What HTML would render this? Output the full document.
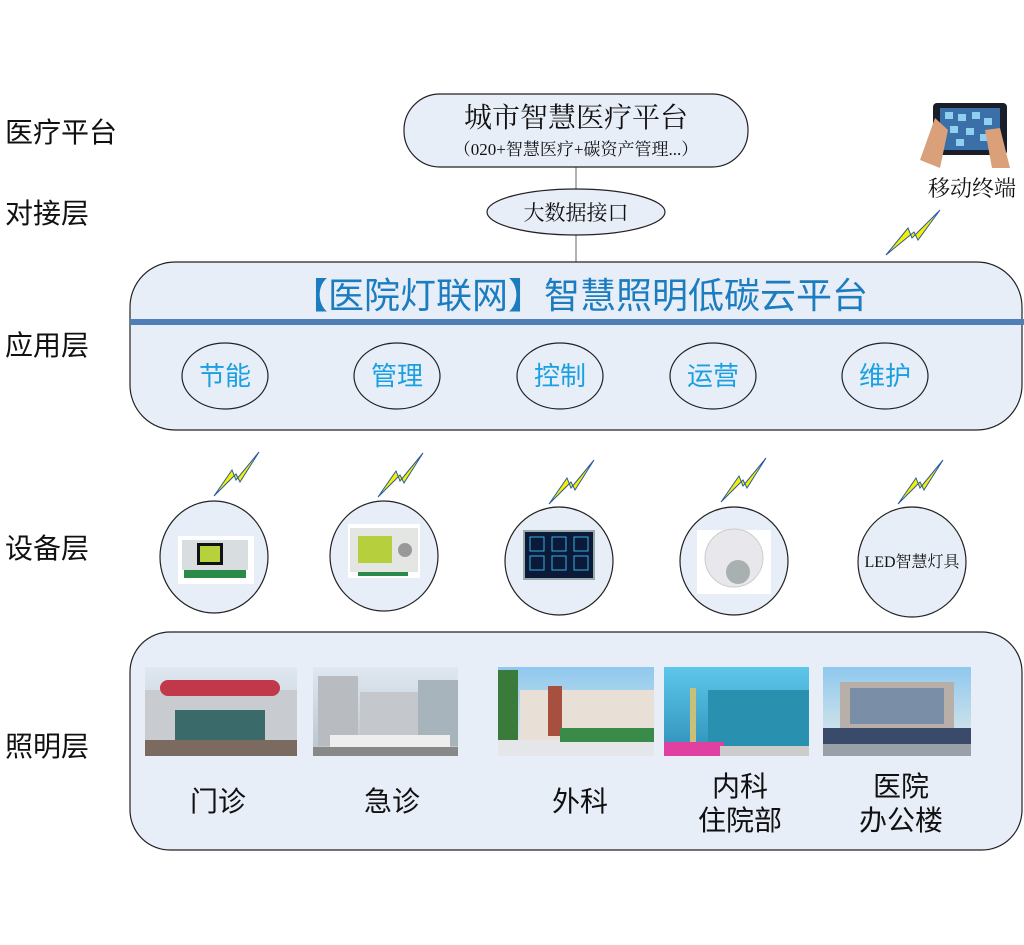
<!DOCTYPE html>
<html><head><meta charset="utf-8"><style>
html,body{margin:0;padding:0;background:#fff;}
svg{display:block;font-family:"Liberation Serif","Noto Serif CJK SC","Noto Sans CJK SC",serif;}
</style></head><body>
<svg width="1024" height="945" viewBox="0 0 1024 945" xmlns="http://www.w3.org/2000/svg">
<defs>
<linearGradient id="sky" x1="0" y1="0" x2="0" y2="1"><stop offset="0" stop-color="#dfe8f0"/><stop offset="1" stop-color="#b9c4cc"/></linearGradient>
<linearGradient id="sky2" x1="0" y1="0" x2="0" y2="1"><stop offset="0" stop-color="#5cc7ea"/><stop offset="1" stop-color="#2f8fb8"/></linearGradient>
<linearGradient id="sky3" x1="0" y1="0" x2="0" y2="1"><stop offset="0" stop-color="#8fc8ee"/><stop offset="1" stop-color="#e6ece8"/></linearGradient>
</defs>
<g font-family="'Liberation Sans','Noto Sans CJK SC',sans-serif" font-size="28" fill="#111">
<text x="5" y="142">医疗平台</text>
<text x="5" y="223">对接层</text>
<text x="5" y="355">应用层</text>
<text x="5" y="558">设备层</text>
<text x="5" y="756">照明层</text>
</g>
<line x1="576" y1="167" x2="576" y2="262" stroke="#666" stroke-width="1"/>
<rect x="404" y="94" width="344" height="73" rx="36" fill="#e8eef8" stroke="#222" stroke-width="1.2"/>
<text x="576" y="127" font-size="28" text-anchor="middle" fill="#111">城市智慧医疗平台</text>
<text x="576" y="155" font-size="17" text-anchor="middle" fill="#111">（020+智慧医疗+碳资产管理...）</text>
<ellipse cx="576" cy="212" rx="89" ry="23" fill="#e8eef8" stroke="#222" stroke-width="1.2"/>
<text x="576" y="220" font-size="21" text-anchor="middle" fill="#111">大数据接口</text>
<rect x="933" y="103" width="74" height="52" rx="4" fill="#1a1d2a"/>
<rect x="940" y="108" width="60" height="42" fill="#3a6fa8"/>
<g fill="#8fd0f0"><rect x="945" y="112" width="8" height="7"/><rect x="958" y="114" width="8" height="7"/><rect x="972" y="112" width="8" height="7"/><rect x="984" y="118" width="8" height="7"/><rect x="950" y="126" width="8" height="7"/><rect x="966" y="128" width="8" height="7"/><rect x="980" y="134" width="8" height="7"/><rect x="956" y="139" width="8" height="7"/></g>
<path d="M920 160 L935 118 L948 130 L940 168 Z" fill="#d9a07a"/>
<path d="M1010 168 L1000 128 L985 130 L992 168 Z" fill="#d9a07a"/>
<text x="972" y="196" font-size="22" text-anchor="middle" fill="#111">移动终端</text>
<g stroke="#2a5aa0" stroke-width="1" fill="#f5f000"><path d="M886 255 L908 228 L912 238 L940 210 L918 240 L914 232 Z"/></g>
<rect x="130" y="262" width="892" height="168" rx="45" fill="#e8eef8" stroke="#222" stroke-width="1.2"/>
<rect x="130" y="319" width="894" height="6" fill="#4f7fb6"/>
<text x="580" y="308" font-size="36" text-anchor="middle" fill="#1c7cc0" font-family="'Liberation Sans','Noto Sans CJK SC',sans-serif">【医院灯联网】智慧照明低碳云平台</text>
<g fill="#e8eef8" stroke="#222" stroke-width="1.2">
<ellipse cx="225" cy="376" rx="43" ry="33"/><ellipse cx="397" cy="376" rx="43" ry="33"/><ellipse cx="560" cy="376" rx="43" ry="33"/><ellipse cx="713" cy="376" rx="43" ry="33"/><ellipse cx="885" cy="376" rx="43" ry="33"/>
</g>
<g font-size="26" text-anchor="middle" fill="#1aa0e0" font-family="'Liberation Sans','Noto Sans CJK SC',sans-serif">
<text x="225" y="385">节能</text><text x="397" y="385">管理</text><text x="560" y="385">控制</text><text x="713" y="385">运营</text><text x="885" y="385">维护</text>
</g>
<g stroke="#2a5aa0" stroke-width="1" fill="#f5f000">
<path d="M214 496 L232 470 L236 480 L259 452 L240 482 L236 474 Z"/>
<path d="M378 497 L396 471 L400 481 L423 453 L404 483 L400 475 Z"/>
<path d="M549 504 L567 478 L571 488 L594 460 L575 490 L571 482 Z"/>
<path d="M721 502 L739 476 L743 486 L766 458 L747 488 L743 480 Z"/>
<path d="M898 504 L916 478 L920 488 L943 460 L924 490 L920 482 Z"/>
</g>
<g fill="#e8eef8" stroke="#222" stroke-width="1.2">
<ellipse cx="214" cy="557" rx="54" ry="56"/><ellipse cx="384" cy="556" rx="54" ry="55"/><ellipse cx="559" cy="561" rx="54" ry="54"/><ellipse cx="734" cy="561" rx="54" ry="54"/><ellipse cx="912" cy="562" rx="54" ry="55"/>
</g>
<rect x="178" y="536" width="76" height="48" fill="#fff"/>
<rect x="182" y="540" width="66" height="30" fill="#d8dde0"/><rect x="197" y="543" width="26" height="22" fill="#111"/><rect x="200" y="546" width="20" height="16" fill="#b6d23a"/>
<rect x="184" y="570" width="62" height="8" fill="#2a8a4a"/>
<rect x="348" y="524" width="72" height="54" fill="#fff"/><rect x="350" y="528" width="68" height="44" fill="#e4e6e4"/><rect x="358" y="536" width="34" height="27" fill="#b6cf3c"/><circle cx="405" cy="550" r="7" fill="#999"/><rect x="358" y="572" width="50" height="4" fill="#2a8a4a"/>
<rect x="523" y="530" width="72" height="50" fill="#9aa"/><rect x="525" y="532" width="68" height="46" fill="#0a1a38"/>
<g stroke="#3ab0e0" fill="none" stroke-width="1"><rect x="530" y="537" width="14" height="14"/><rect x="552" y="537" width="14" height="14"/><rect x="574" y="537" width="14" height="14"/><rect x="530" y="556" width="14" height="14"/><rect x="552" y="556" width="14" height="14"/><rect x="574" y="556" width="14" height="14"/></g>
<rect x="697" y="530" width="74" height="64" fill="#fff"/><circle cx="734" cy="558" r="29" fill="#e8e8ec" stroke="#ccc"/><circle cx="738" cy="572" r="12" fill="#a8b0b0"/>
<text x="912" y="567" font-size="16" text-anchor="middle" fill="#111">LED智慧灯具</text>
<rect x="130" y="632" width="892" height="218" rx="40" fill="#e8eef8" stroke="#222" stroke-width="1.2"/>
<rect x="145" y="667" width="152" height="89" fill="url(#sky)"/><rect x="145" y="690" width="152" height="50" fill="#c8ccd0"/><rect x="160" y="680" width="120" height="16" rx="8" fill="#c0384a"/><rect x="175" y="710" width="90" height="35" fill="#3a6a6a"/><rect x="145" y="740" width="152" height="16" fill="#7a6a60"/>
<rect x="313" y="667" width="145" height="89" fill="url(#sky)"/><rect x="318" y="676" width="40" height="70" fill="#b8bcc0"/><rect x="360" y="692" width="80" height="52" fill="#c4c8cc"/><rect x="418" y="680" width="40" height="66" fill="#a8b4bc"/><rect x="330" y="735" width="120" height="12" fill="#eee"/><rect x="313" y="747" width="145" height="9" fill="#888"/>
<rect x="498" y="667" width="156" height="89" fill="url(#sky3)"/><rect x="520" y="690" width="134" height="52" fill="#e8e0d6"/><rect x="548" y="686" width="14" height="50" fill="#a85040"/><rect x="498" y="670" width="20" height="70" fill="#3a7a3a"/><rect x="498" y="740" width="156" height="16" fill="#e4e6ea"/><rect x="560" y="728" width="94" height="14" fill="#3a8a4a"/>
<rect x="664" y="667" width="145" height="89" fill="url(#sky2)"/><rect x="708" y="690" width="101" height="56" fill="#2a90b0"/><rect x="690" y="688" width="6" height="55" fill="#c8c07a"/><rect x="664" y="742" width="60" height="14" fill="#e040a0"/><rect x="720" y="746" width="89" height="10" fill="#ccc"/>
<rect x="823" y="667" width="148" height="89" fill="url(#sky3)"/><rect x="840" y="682" width="114" height="46" fill="#b8b0a8"/><rect x="850" y="688" width="94" height="36" fill="#7a8ea8"/><rect x="823" y="728" width="148" height="16" fill="#3a4a6a"/><rect x="823" y="744" width="148" height="12" fill="#9aa0a8"/>
<g font-size="28" text-anchor="middle" fill="#111" font-family="'Liberation Sans','Noto Sans CJK SC',sans-serif">
<text x="218" y="811">门诊</text><text x="392" y="811">急诊</text><text x="580" y="811">外科</text>
<text x="740" y="796">内科</text><text x="740" y="830">住院部</text>
<text x="901" y="796">医院</text><text x="901" y="830">办公楼</text>
</g>
</svg>
</body></html>
